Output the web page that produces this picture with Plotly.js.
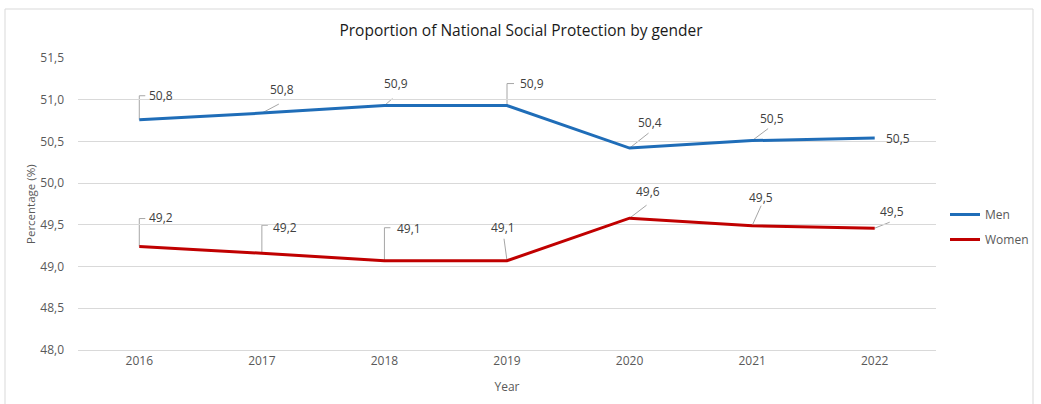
<!DOCTYPE html>
<html>
<head>
<meta charset="utf-8">
<script src="https://cdn.plot.ly/plotly-3.0.1.min.js"></script>
<style>html,body{margin:0;padding:0;background:#fff;}#chart{width:1041px;height:404px;}</style>
</head>
<body>
<div id="chart"></div>
<script>
// ---- data ----
const years = ['2016', '2017', '2018', '2019', '2020', '2021', '2022'];
const men = [50.76, 50.84, 50.93, 50.93, 50.42, 50.51, 50.54];
const women = [49.24, 49.16, 49.07, 49.07, 49.58, 49.49, 49.46];
const seriesNames = ['Men', 'Women'];
const chartTitle = 'Proportion of National Social Protection by gender';
const yTitle = 'Percentage (%)';
const xTitle = 'Year';

// ---- label placement (pixel offsets from each point: text centre, leader path) ----
const menLabelPos = [
  {tx: 22, ty: 24, path: 'M0,0 L0,24 L6,24'},
  {tx: 20, ty: 24, path: 'M0,0 L17,9'},
  {tx: 12, ty: 22, path: 'M0,0 L8,7'},
  {tx: 25, ty: 22, path: 'M0,0 L0,22 L7,22'},
  {tx: 20, ty: 26, path: 'M0,0 L19,15'},
  {tx: 20, ty: 22, path: 'M0,0 L16,12'},
  {tx: 23, ty: 0, path: null}
];
const womenLabelPos = [
  {tx: 22, ty: 29, path: 'M0,0 L0,28 L6,28'},
  {tx: 23, ty: 26, path: 'M0,0 L0,28 L6,28'},
  {tx: 25, ty: 32, path: 'M0,0 L0,33 L6,33'},
  {tx: -4, ty: 33, path: 'M0,0 L-3,22'},
  {tx: 18, ty: 27, path: 'M0,0 L17,13'},
  {tx: 9, ty: 28, path: 'M0,0 L9,20'},
  {tx: 17, ty: 17, path: 'M0,0 L15,6'}
];

const FONT = 'Open Sans, Liberation Sans, sans-serif';
const colors = ['#1f6db8', '#c00000'];
const fmt = v => v.toFixed(1).replace('.', ',');

const traces = [men, women].map((vals, i) => ({
  type: 'scatter', mode: 'lines', name: seriesNames[i],
  x: years, y: vals,
  line: {color: colors[i], width: 3},
  legendgroup: 'g' + i,
  hoverinfo: 'skip'
}));

const annotations = [];
const shapes = [];
[[men, menLabelPos], [women, womenLabelPos]].forEach(([vals, pos]) => {
  vals.forEach((v, j) => {
    const p = pos[j];
    annotations.push({
      x: j, y: v, xref: 'x', yref: 'y',
      text: fmt(v), showarrow: false,
      xanchor: 'center', yanchor: 'middle',
      xshift: p.tx, yshift: p.ty,
      font: {family: FONT, size: 12, color: '#404040'}
    });
    if (p.path) {
      shapes.push({
        type: 'path', xref: 'x', yref: 'y',
        xsizemode: 'pixel', ysizemode: 'pixel',
        xanchor: j, yanchor: v,
        path: p.path,
        line: {color: '#a6a6a6', width: 1},
        layer: 'below'
      });
    }
  });
});

// y-axis title
annotations.push({
  xref: 'paper', yref: 'paper', x: (30 - 78) / 858, y: 0.5,
  xanchor: 'center', yanchor: 'middle', textangle: -90,
  text: yTitle, showarrow: false,
  font: {family: FONT, size: 11.5, color: '#595959'}
});

// outer chart border
shapes.push({
  type: 'rect', xref: 'paper', yref: 'paper',
  x0: (5 - 78) / 858, x1: (1033 - 78) / 858,
  y0: (350 - 420) / 292, y1: (350 - 9) / 292,
  line: {color: '#d9d9d9', width: 1}, fillcolor: 'rgba(0,0,0,0)', layer: 'below'
});

const layout = {
  width: 1041, height: 404,
  margin: {l: 78, r: 105, t: 58, b: 54, autoexpand: false},
  paper_bgcolor: '#ffffff', plot_bgcolor: '#ffffff',
  separators: ', ',
  font: {family: FONT, color: '#595959'},
  title: {
    text: chartTitle,
    font: {family: FONT, size: 15.5, color: '#1a1a1a'},
    x: 521 / 1041, xanchor: 'center', xref: 'container',
    y: 1 - 31 / 404, yanchor: 'middle', yref: 'container'
  },
  xaxis: {
    type: 'category', range: [-0.5, 6.5],
    showgrid: false, zeroline: false,
    showline: true, linecolor: '#d9d9d9', linewidth: 1, ticks: '',
    tickfont: {family: FONT, size: 12, color: '#595959'},
    title: {text: xTitle, font: {family: FONT, size: 12, color: '#595959'}, standoff: 14},
    fixedrange: true
  },
  yaxis: {
    range: [48, 51.5], dtick: 0.5, tick0: 48, tickformat: '.1f',
    showgrid: true, gridcolor: '#d9d9d9', gridwidth: 1,
    zeroline: false, showline: false, ticks: '',
    ticklabelstandoff: 13,
    tickfont: {family: FONT, size: 12, color: '#595959'},
    fixedrange: true
  },
  showlegend: true,
  legend: {
    x: (945 - 78) / 858, xanchor: 'left',
    y: (350 - 227) / 292, yanchor: 'middle',
    traceorder: 'grouped', tracegroupgap: 6,
    font: {family: FONT, size: 12, color: '#595959'},
    bgcolor: 'rgba(0,0,0,0)', itemwidth: 30
  },
  annotations: annotations,
  shapes: shapes
};

Plotly.newPlot('chart', traces, layout, {displayModeBar: false, staticPlot: true});
</script>
</body>
</html>
